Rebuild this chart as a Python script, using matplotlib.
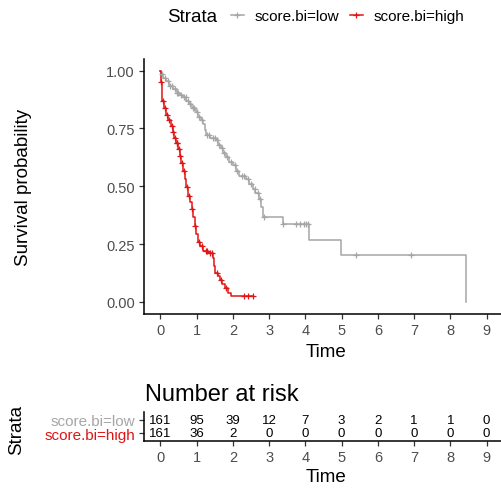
import numpy as np
import matplotlib
matplotlib.use("Agg")
import matplotlib.pyplot as plt
from matplotlib.lines import Line2D

plt.rcParams['font.family'] = ['Liberation Sans', 'DejaVu Sans']

# ---------------- data ----------------
strata = ["score.bi=low", "score.bi=high"]
colors = ["#A6A6A6", "#E01515"]

low_time = [0, 0.03, 0.08, 0.15, 0.25, 0.35, 0.45, 0.55, 0.62, 0.72, 0.80, 0.88, 0.98,
            1.05, 1.12, 1.18, 1.22, 1.25, 1.38, 1.53, 1.60, 1.66, 1.72, 1.80, 1.90,
            2.0, 2.08, 2.18, 2.36, 2.45, 2.55, 2.62, 2.73, 2.78, 2.82, 3.38, 4.10,
            4.99, 8.44]
low_surv = [1.0, 0.985, 0.97, 0.955, 0.935, 0.92, 0.905, 0.895, 0.885, 0.87, 0.855,
            0.84, 0.82, 0.80, 0.785, 0.77, 0.745, 0.72, 0.71, 0.70, 0.68, 0.665,
            0.645, 0.625, 0.605, 0.59, 0.565, 0.545, 0.53, 0.51, 0.487, 0.47, 0.443,
            0.41, 0.366, 0.335, 0.268, 0.201, 0.0]
low_censor = [0.05, 0.12, 0.2, 0.28, 0.33, 0.4, 0.47, 0.5, 0.58, 0.66, 0.7, 0.76, 0.83,
              0.9, 0.94, 1.0, 1.08, 1.15, 1.3, 1.35, 1.45, 1.5, 1.57, 1.63, 1.7, 1.76,
              1.85, 1.95, 2.05, 2.12, 2.25, 2.3, 2.42, 2.5, 2.6, 2.68, 2.76, 2.85,
              3.38, 3.74, 3.84, 3.96, 4.03, 4.07, 5.4, 6.92]

high_time = [0, 0.02, 0.04, 0.06, 0.10, 0.16, 0.22, 0.29, 0.34, 0.39, 0.44, 0.49, 0.53,
             0.58, 0.62, 0.67, 0.71, 0.76, 0.81, 0.86, 0.90, 0.95, 0.99, 1.04, 1.10,
             1.18, 1.32, 1.46, 1.49, 1.51, 1.58, 1.64, 1.71, 1.78, 1.87, 1.96, 2.55]
high_surv = [1.0, 0.95, 0.91, 0.87, 0.84, 0.81, 0.785, 0.76, 0.735, 0.71, 0.685, 0.66,
             0.63, 0.60, 0.565, 0.53, 0.495, 0.46, 0.43, 0.40, 0.365, 0.33, 0.295,
             0.26, 0.24, 0.22, 0.21, 0.19, 0.155, 0.125, 0.11, 0.095, 0.078, 0.06,
             0.04, 0.025, 0.025]
high_censor = [0.02, 0.08, 0.13, 0.19, 0.25, 0.31, 0.36, 0.41, 0.45, 0.47, 0.51, 0.55,
               0.6, 0.65, 0.73, 0.79, 0.88, 0.97, 1.07, 1.14, 1.25, 1.3, 1.38, 1.43,
               1.55, 1.68, 1.82, 2.3, 2.42, 2.55]

risk_times = [0, 1, 2, 3, 4, 5, 6, 7, 8, 9]
risk_low = [161, 95, 39, 12, 7, 3, 2, 1, 1, 0]
risk_high = [161, 36, 2, 0, 0, 0, 0, 0, 0, 0]

x_ticks = [0, 1, 2, 3, 4, 5, 6, 7, 8, 9]
y_ticks = [0.0, 0.25, 0.5, 0.75, 1.0]
y_ticklabels = ["0.00", "0.25", "0.50", "0.75", "1.00"]

# ---------------- figure ----------------
W, H = 501, 489
fig = plt.figure(figsize=(W / 100, H / 100), dpi=100)

def fx(px):
    return px / W

def fy(py):
    return 1 - py / H

tick_col = "#4D4D4D"
ax = fig.add_axes([fx(144), fy(314.5), fx(503) - fx(144), fy(60) - fy(314.5)])
ax.set_xlim(-0.45, 9.45)
ax.set_ylim(-0.05, 1.05)

def step_value(times, surv, t):
    idx = np.searchsorted(np.asarray(times), t, side='right') - 1
    return np.asarray(surv)[idx]

curves = [(low_time, low_surv, low_censor), (high_time, high_surv, high_censor)]
handles = []
for (tt, ss, cc), col, name in zip(curves, colors, strata):
    ax.step(tt, ss, where='post', color=col, lw=1.1, zorder=3)
    cy = step_value(tt, ss, np.asarray(cc))
    ax.plot(cc, cy, ls='none', marker='+', ms=5, mew=0.9, color=col, zorder=4)
    handles.append(Line2D([], [], color=col, lw=1.1, marker='+', ms=5, mew=0.9, label=name))

for s in ['top', 'right']:
    ax.spines[s].set_visible(False)
for s in ['left', 'bottom']:
    ax.spines[s].set_linewidth(1.1)
    ax.spines[s].set_color('black')
ax.set_xticks(x_ticks)
ax.set_yticks(y_ticks)
ax.set_yticklabels(y_ticklabels)
ax.tick_params(axis='both', direction='out', length=3.5, width=0.9, color='#333333',
               labelsize=10.5, labelcolor=tick_col, pad=3)

fig.text(fx(24), fy(187.5), "Survival probability", rotation=90, ha='center', va='center',
         fontsize=13.5, color='black')
fig.text(fx(326), fy(353), "Time", ha='center', va='center', fontsize=13.5, color='black')

# legend
fig.text(fx(166.7), fy(17), "Strata", ha='left', va='center', fontsize=13.5)
fig.legend(handles=handles, loc='center left', bbox_to_anchor=(fx(231), fy(17)),
           ncol=2, frameon=False, fontsize=11, handlelength=0.85, handletextpad=0.7,
           columnspacing=0.7, borderpad=0, borderaxespad=0)

# ---------------- risk table ----------------
rax = fig.add_axes([fx(144), fy(442.3), fx(503) - fx(144), fy(412.8) - fy(442.3)])
rax.set_xlim(-0.45, 9.45)
rax.set_ylim(0.4, 2.6)
for t, n in zip(risk_times, risk_low):
    rax.text(t, 2, str(n), ha='center', va='center', fontsize=9.5, color='black')
for t, n in zip(risk_times, risk_high):
    rax.text(t, 1, str(n), ha='center', va='center', fontsize=9.5, color='black')
for s in ['top', 'right']:
    rax.spines[s].set_visible(False)
for s in ['left', 'bottom']:
    rax.spines[s].set_linewidth(1.1)
    rax.spines[s].set_color('black')
rax.set_xticks(x_ticks)
rax.set_yticks([1, 2])
rax.set_yticklabels([strata[1], strata[0]])
rax.tick_params(axis='both', direction='out', length=3.5, width=0.9, color='#333333',
                labelsize=10.5, labelcolor=tick_col, pad=3)
rax.tick_params(axis='y', labelsize=11)
for lab, col in zip(rax.get_yticklabels(), [colors[1], colors[0]]):
    lab.set_color(col)

fig.text(fx(145), fy(395), "Number at risk", ha='left', va='center', fontsize=17)
fig.text(fx(17), fy(430), "Strata", rotation=90, ha='center', va='center', fontsize=13.5)
fig.text(fx(326), fy(478), "Time", ha='center', va='center', fontsize=13.5)

fig.savefig("out.png", dpi=100)
